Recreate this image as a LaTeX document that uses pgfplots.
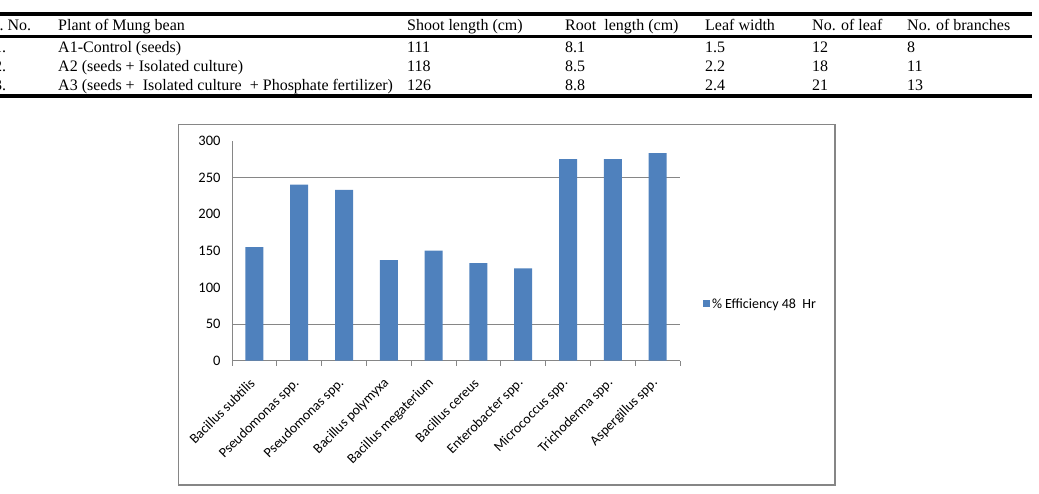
\documentclass[border=0pt]{standalone}
\usepackage{pgfplots}
\pgfplotsset{compat=1.18}
\usepackage{fontspec}
\setmainfont{Liberation Serif}
\newfontfamily\chartfont{Carlito}
\definecolor{barblue}{HTML}{4F81BD}
\definecolor{framegray}{HTML}{868686}

\pgfplotstableread{
idx value
0 155
1 240
2 233
3 137
4 150
5 133
6 126
7 275
8 275
9 283
}\efficiency

\begin{document}
\begin{tikzpicture}

% ---- bar chart ----
\begin{axis}[
  at={(232pt,133.3pt)}, anchor=south west,
  scale only axis, width=448pt, height=220pt,
  xmin=-0.5, xmax=9.5, ymin=0, ymax=300,
  axis lines=left,
  axis line style={-, draw=framegray, line width=0.9pt},
  ytick={0,50,...,300},
  xtick={0,...,9},
  xticklabels={Bacillus subtilis, Pseudomonas spp., Pseudomonas spp., Bacillus polymyxa, Bacillus megaterium, Bacillus cereus, Enterobacter spp., Micrococcus spp., Trichoderma spp., Aspergillus spp.},
  minor xtick={-0.5,0.5,...,9.5},
  major tick length=0pt, minor tick length=5pt, tick align=outside,
  every tick/.style={framegray, line width=0.8pt},
  extra y ticks={50,250}, extra y tick labels={},
  extra y tick style={grid=major},
  grid style={framegray, line width=0.9pt},
  /pgf/number format/assume math mode=true,
  yticklabel style={font=\chartfont\fontsize{14.5}{17}\selectfont, xshift=-8pt},
  xticklabel style={font=\chartfont\fontsize{14}{16}\selectfont,
    inner sep=0pt, xshift=-2pt, yshift=-20pt, rotate=45, anchor=east},
  legend style={at={(1.051,0.258)}, anchor=west, draw=none, fill=none,
    inner sep=0pt, font=\chartfont\fontsize{14}{16}\selectfont},
  ybar, bar width=18pt,
  clip=false,
]
\addplot[fill=barblue, draw=none, area legend,
  legend image code/.code={\fill[barblue] (0pt,-3.5pt) rectangle (7pt,3.5pt);}]
  table[x=idx, y=value] {\efficiency};
\addlegendentry{\% Efficiency 48\ \ Hr}
\end{axis}

\begin{scope}[x=1pt,y=1pt]
\useasboundingbox (0,0) rectangle (1039,494);

% ---- chart frame ----
\draw[framegray, line width=1.2pt] (178.3,369.7) rectangle (835,9);

% ---- table of growth parameters ----
\draw[line width=3.5pt] (0,480) -- (1032,480);
\draw[line width=3pt] (0,457.5) -- (1032,457.5);
\draw[line width=3.5pt] (0,398) -- (1032,398);
\begin{scope}[every node/.style={anchor=base west, inner sep=0pt, font=\fontsize{16}{18}\selectfont}]
  % header
  \node at (-9.5,463) {S. No.};
  \node at (58,463) {Plant of Mung bean};
  \node at (407,463) {Shoot length (cm)};
  \node at (565,463) {Root\ \ length (cm)};
  \node at (705,463) {Leaf width};
  \node at (812,463) {No. of leaf};
  \node at (907,463) {No. of branches};
  % rows
  \node at (-6,441) {1.};
  \node at (58,441) {A1-Control (seeds)};
  \node at (407,441) {111};
  \node at (565,441) {8.1};
  \node at (705,441) {1.5};
  \node at (812,441) {12};
  \node at (907,441) {8};
  \node at (-6,422) {2.};
  \node at (58,422) {A2 (seeds + Isolated culture)};
  \node at (407,422) {118};
  \node at (565,422) {8.5};
  \node at (705,422) {2.2};
  \node at (812,422) {18};
  \node at (907,422) {11};
  \node at (-6,403) {3.};
  \node at (58,403) {A3 (seeds +\ \ Isolated culture\ \ + Phosphate fertilizer)};
  \node at (407,403) {126};
  \node at (565,403) {8.8};
  \node at (705,403) {2.4};
  \node at (812,403) {21};
  \node at (907,403) {13};
\end{scope}
\end{scope}
\end{tikzpicture}
\end{document}
